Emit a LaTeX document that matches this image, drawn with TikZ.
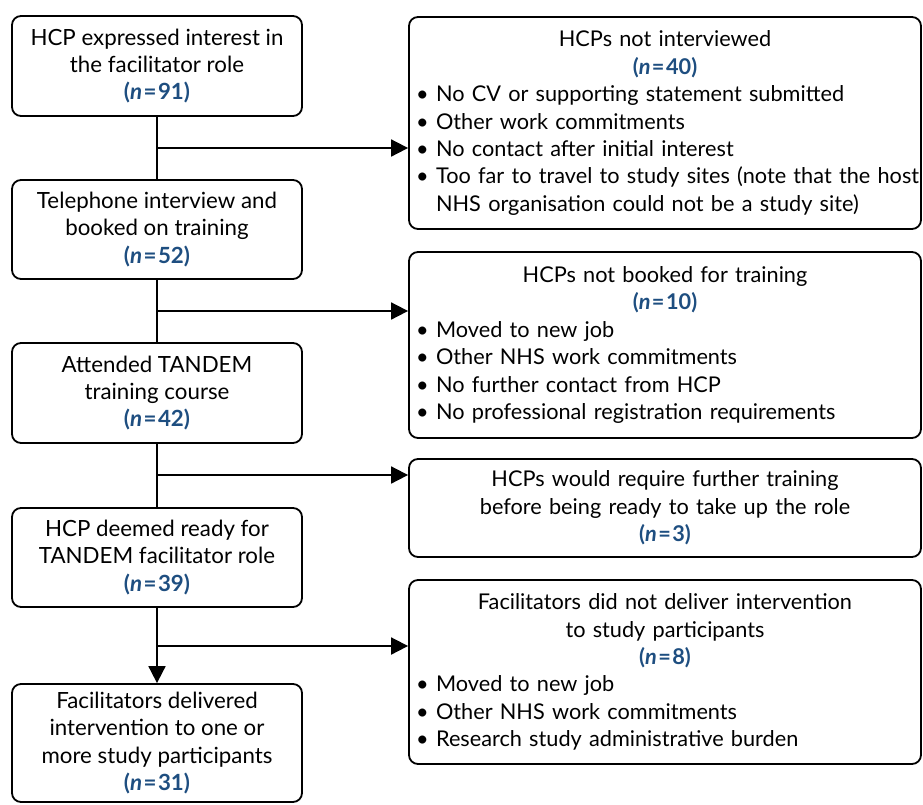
\documentclass[tikz,border=0pt]{standalone}
\usepackage{fontspec}
\setmainfont{Lato}
\newfontfamily\exclfont[WordSpace=0.72]{Lato}
\usetikzlibrary{arrows.meta,positioning}

\definecolor{nblue}{RGB}{30,78,128}
\newcommand{\nval}[1]{{\color{nblue}\bfseries(\textit{n}\kern1.5pt=\kern1.5pt#1)}}
\newcommand{\bul}[1]{\hspace*{7pt}\mbox{\textbullet\kern7.5pt#1}}
\newcommand{\hang}[1]{\hspace*{7pt}\mbox{\phantom{\textbullet\kern7.5pt}#1}}
\newcommand{\ctitle}[1]{{\centering #1\par}}

\begin{document}
\begin{tikzpicture}[x=1pt,y=-1pt,>={Triangle[length=17pt,width=17pt]},
    every node/.style={font=\fontsize{22.3}{27.4}\selectfont},
    stage/.style={draw,line width=1.8pt,rounded corners=9pt,
      minimum width=290pt,align=center,inner sep=0pt},
    excl/.style={draw,line width=1.8pt,rounded corners=9pt,
      font=\exclfont\fontsize{21.7}{27.4}\selectfont,
      text width=512pt,align=left,inner xsep=0pt,inner ysep=0pt},
    flow/.style={line width=1.8pt}]
  \useasboundingbox (0,0) rectangle (923,804);

  % main path
  \node[stage,minimum height=100pt] (interest) at (157,66)
    {HCP expressed interest in\\the facilitator role\\\nval{91}};
  \node[stage,minimum height=99pt] (phone) at (157,229.5)
    {Telephone interview and\\booked on training\\\nval{52}};
  \node[stage,minimum height=100pt] (course) at (157,393)
    {Attended TANDEM\\training course\\\nval{42}};
  \node[stage,minimum height=99pt] (ready) at (157,557.5)
    {HCP deemed ready for\\TANDEM facilitator role\\\nval{39}};
  \node[stage,minimum height=118pt] (delivered) at (157,743)
    {Facilitators delivered\\intervention to one or\\more study participants\\\nval{31}};

  % exclusions
  \node[excl,minimum height=212pt] (notint) at (665,123)
    {\ctitle{HCPs not interviewed\\\nval{40}}
     \bul{No CV or supporting statement submitted}\\
     \bul{Other work commitments}\\
     \bul{No contact after initial interest}\\
     \bul{Too far to travel to study sites (note that the host}\\
     \hang{NHS organisation could not be a study site)}};
  \node[excl,minimum height=186pt] (notbooked) at (665,345)
    {\ctitle{HCPs not booked for training\\\nval{10}}
     \bul{Moved to new job}\\
     \bul{Other NHS work commitments}\\
     \bul{No further contact from HCP}\\
     \bul{No professional registration requirements}};
  \node[excl,minimum height=98pt] (further) at (665,508)
    {\ctitle{HCPs would require further training\\before being ready to take up the role\\\nval{3}}};
  \node[excl,minimum height=184pt] (notdeliv) at (665,672)
    {\ctitle{Facilitators did not deliver intervention\\to study participants\\\nval{8}}
     \bul{Moved to new job}\\
     \bul{Other NHS work commitments}\\
     \bul{Research study administrative burden}};

  % junctions on the main line
  \coordinate (j1) at (157,148);
  \coordinate (j2) at (157,311);
  \coordinate (j3) at (157,475);
  \coordinate (j4) at (157,646);

  \draw[flow] (interest) -- (phone);
  \draw[flow] (phone) -- (course);
  \draw[flow] (course) -- (ready);
  \draw[flow,->] (ready) -- (delivered);

  \draw[flow,->] (j1) -- (j1 -| notint.west);
  \draw[flow,->] (j2) -- (j2 -| notbooked.west);
  \draw[flow,->] (j3) -- (j3 -| further.west);
  \draw[flow,->] (j4) -- (j4 -| notdeliv.west);
\end{tikzpicture}
\end{document}
